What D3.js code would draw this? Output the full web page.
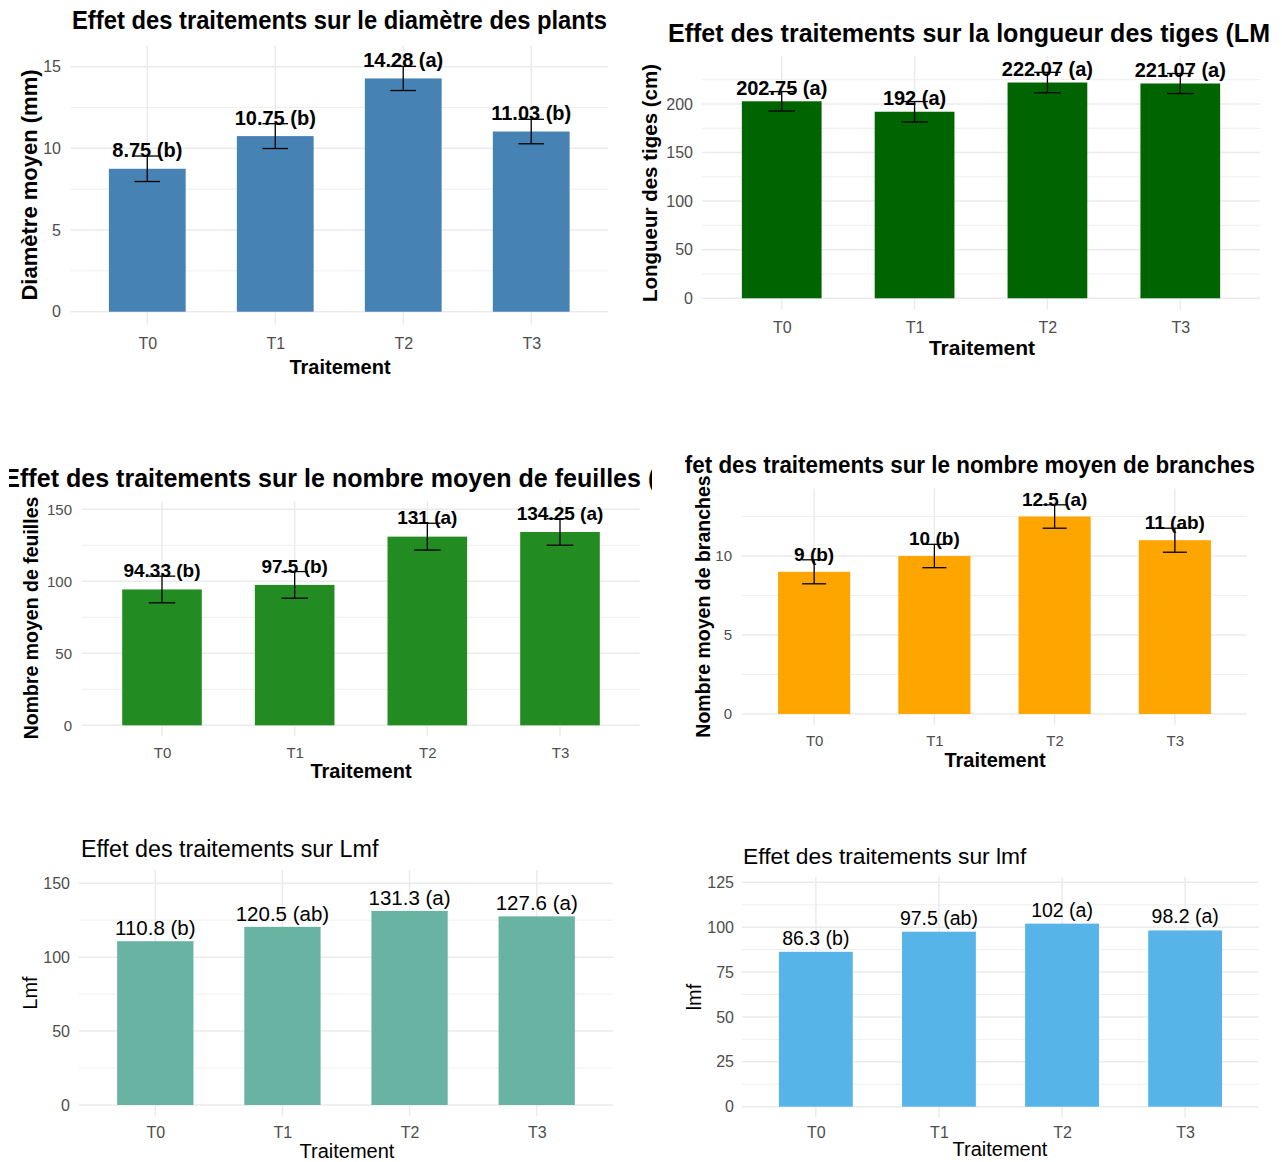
<!DOCTYPE html>
<html>
<head>
<meta charset="utf-8">
<script src="https://cdn.jsdelivr.net/npm/d3@7"></script>
<style>
  body { margin: 0; background: #fff; }
  svg { display: block; font-family: "Liberation Sans", Arial, sans-serif; }
</style>
</head>
<body>
<svg id="chart"></svg>
<script>
// données
const categories = ["T0", "T1", "T2", "T3"];

const diametre = [8.75, 10.75, 14.28, 11.03];
const diametreSE = [0.78, 0.76, 0.74, 0.75];
const diametreLettres = ["b", "b", "a", "b"];

const longueur = [202.75, 192, 222.07, 221.07];
const longueurSE = [10, 10.5, 10.5, 10.3];
const longueurLettres = ["a", "a", "a", "a"];

const feuilles = [94.33, 97.5, 131, 134.25];
const feuillesSE = [9.25, 9.25, 9.3, 9.2];
const feuillesLettres = ["b", "b", "a", "a"];

const branches = [9, 10, 12.5, 11];
const branchesSE = [0.76, 0.74, 0.74, 0.76];
const branchesLettres = ["b", "b", "a", "ab"];

const Lmf = [110.8, 120.5, 131.3, 127.6];
const LmfLettres = ["b", "ab", "a", "a"];

const lmf = [86.3, 97.5, 102, 98.2];
const lmfLettres = ["b", "ab", "a", "a"];

const W = 1282, H = 1162;
const svg = d3.select("#chart").attr("width", W).attr("height", H);
svg.append("rect").attr("width", W).attr("height", H).attr("fill", "#fff");
const defs = svg.append("defs");

function panel(c) {
  const g = svg.append("g");
  if (c.clip) {
    const id = "clip" + c.id;
    defs.append("clipPath").attr("id", id).append("rect")
      .attr("x", c.clip[0]).attr("y", c.clip[1])
      .attr("width", c.clip[2] - c.clip[0]).attr("height", c.clip[3] - c.clip[1]);
    g.attr("clip-path", `url(#${id})`);
  }

  const x = d3.scalePoint().domain(categories).range([c.left, c.right]).padding(0.6);
  const step = x.step();
  const y = d3.scaleLinear().domain([-0.05 * c.ymax, 1.05 * c.ymax]).range([c.bottom, c.top]);

  const major = d3.range(0, 1.05 * c.ymax + 1e-9, c.tick);
  const minor = major.map(v => v + c.tick / 2).filter(v => v <= 1.05 * c.ymax);

  g.append("g").selectAll("line").data(minor).join("line")
    .attr("x1", c.left).attr("x2", c.right)
    .attr("y1", d => y(d)).attr("y2", d => y(d))
    .attr("stroke", "#EBEBEB").attr("stroke-width", 0.8);
  g.append("g").selectAll("line").data(major).join("line")
    .attr("x1", c.left).attr("x2", c.right)
    .attr("y1", d => y(d)).attr("y2", d => y(d))
    .attr("stroke", "#EBEBEB").attr("stroke-width", 1.5);
  g.append("g").selectAll("line").data(categories).join("line")
    .attr("x1", d => x(d)).attr("x2", d => x(d))
    .attr("y1", c.top).attr("y2", c.bottom)
    .attr("stroke", "#EBEBEB").attr("stroke-width", 1.5);

  const rows = categories.map((k, i) => ({
    k, v: c.values[i], se: c.se ? c.se[i] : 0, lab: c.values[i] + " (" + c.letters[i] + ")"
  }));

  g.append("g").selectAll("rect").data(rows).join("rect")
    .attr("x", d => x(d.k) - 0.3 * step)
    .attr("width", 0.6 * step)
    .attr("y", d => y(d.v))
    .attr("height", d => y(0) - y(d.v))
    .attr("fill", c.color);

  if (c.se) {
    const eb = g.append("g").attr("stroke", "#000").attr("stroke-width", 1.3);
    const hw = 0.1 * step;
    eb.selectAll(".v").data(rows).join("line").attr("class", "v")
      .attr("x1", d => x(d.k)).attr("x2", d => x(d.k))
      .attr("y1", d => y(d.v - d.se)).attr("y2", d => y(d.v + d.se));
    eb.selectAll(".t").data(rows).join("line").attr("class", "t")
      .attr("x1", d => x(d.k) - hw).attr("x2", d => x(d.k) + hw)
      .attr("y1", d => y(d.v + d.se)).attr("y2", d => y(d.v + d.se));
    eb.selectAll(".b").data(rows).join("line").attr("class", "b")
      .attr("x1", d => x(d.k) - hw).attr("x2", d => x(d.k) + hw)
      .attr("y1", d => y(d.v - d.se)).attr("y2", d => y(d.v - d.se));
  }

  g.append("g").selectAll("text").data(rows).join("text")
    .attr("x", d => x(d.k))
    .attr("y", d => c.se ? y(d.v + d.se) + c.valOffset : y(d.v) + c.valOffset)
    .attr("text-anchor", "middle")
    .attr("font-size", c.valFs)
    .attr("font-weight", c.bold ? "bold" : "normal")
    .attr("fill", "#000")
    .text(d => d.lab);

  // axes
  const ay = g.append("g").attr("transform", `translate(${c.left},0)`)
    .call(d3.axisLeft(y).tickValues(major).tickSize(0).tickPadding(c.left - c.yLabRight).tickFormat(d3.format("d")));
  ay.select(".domain").remove();
  ay.selectAll("text").attr("font-size", c.tickFs).attr("fill", "#4D4D4D")
    .attr("font-family", "Liberation Sans, Arial, sans-serif");

  const ax = g.append("g").attr("transform", `translate(0,${c.bottom})`)
    .call(d3.axisBottom(x).tickSize(0).tickPadding(c.xLabBase - c.bottom - 0.71 * c.tickFs));
  ax.select(".domain").remove();
  ax.selectAll("text").attr("font-size", c.tickFs).attr("fill", "#4D4D4D")
    .attr("font-family", "Liberation Sans, Arial, sans-serif");

  // titres
  const t = g.append("text")
    .attr("x", c.titleX).attr("y", c.titleY)
    .attr("font-size", c.titleFs)
    .attr("font-weight", c.bold ? "bold" : "normal")
    .attr("fill", "#000")
    .text(c.title);
  if (c.titleLen) t.attr("textLength", c.titleLen).attr("lengthAdjust", "spacingAndGlyphs");

  g.append("text")
    .attr("x", c.xTitle[0]).attr("y", c.xTitle[1])
    .attr("text-anchor", "middle")
    .attr("font-size", c.xTitle[2])
    .attr("font-weight", c.bold ? "bold" : "normal")
    .text("Traitement");

  g.append("text")
    .attr("transform", `translate(${c.yTitle[1]},${c.yTitle[2]}) rotate(-90)`)
    .attr("text-anchor", "middle")
    .attr("font-size", c.yTitle[3])
    .attr("font-weight", c.bold ? "bold" : "normal")
    .text(c.yTitle[0]);
}

panel({
  id: 1, values: diametre, se: diametreSE, letters: diametreLettres, color: "#4682B4", bold: true,
  left: 70.5, right: 608, top: 45.5, bottom: 324.4, ymax: 15.52, tick: 5,
  tickFs: 16, xLabBase: 349, yLabRight: 61, valFs: 20, valOffset: 1,
  title: "Effet des traitements sur le diamètre des plants", titleX: 72, titleY: 29, titleFs: 26, titleLen: 535,
  xTitle: [340, 374, 20], yTitle: ["Diamètre moyen (mm)", 37, 185, 22]
});

panel({
  id: 2, values: longueur, se: longueurSE, letters: longueurLettres, color: "#006400", bold: true,
  left: 702, right: 1260, top: 56, bottom: 309.8, ymax: 237.5, tick: 50,
  tickFs: 16, xLabBase: 333, yLabRight: 693, valFs: 20, valOffset: 3.5,
  title: "Effet des traitements sur la longueur des tiges (LM", titleX: 668, titleY: 42, titleFs: 25, titleLen: 602,
  xTitle: [982, 355, 21], yTitle: ["Longueur des tiges (cm)", 657, 183, 20.5]
});

panel({
  id: 3, values: feuilles, se: feuillesSE, letters: feuillesLettres, color: "#228B22", bold: true,
  left: 82.4, right: 639.6, top: 500.9, bottom: 736, ymax: 148.4, tick: 50,
  tickFs: 15, xLabBase: 758, yLabRight: 72, valFs: 19, valOffset: 1,
  title: "Effet des traitements sur le nombre moyen de feuilles (", titleX: 3.3, titleY: 487, titleFs: 25, titleLen: 653,
  clip: [9, 440, 652, 800],
  xTitle: [361, 778, 20], yTitle: ["Nombre moyen de feuilles", 38, 618, 19.5]
});

panel({
  id: 4, values: branches, se: branchesSE, letters: branchesLettres, color: "#FFA500", bold: true,
  left: 742, right: 1247, top: 488.4, bottom: 724.7, ymax: 13.6, tick: 5,
  tickFs: 15, xLabBase: 746, yLabRight: 732, valFs: 19, valOffset: 1,
  title: "Effet des traitements sur le nombre moyen de branches", titleX: 662.4, titleY: 473, titleFs: 23, titleLen: 592.6,
  clip: [685, 430, 1282, 800],
  xTitle: [995, 767, 20], yTitle: ["Nombre moyen de branches", 710, 606.5, 19.5]
});

panel({
  id: 5, values: Lmf, letters: LmfLettres, color: "#69B3A2", bold: false,
  left: 79, right: 613, top: 870, bottom: 1116.2, ymax: 151.4, tick: 50,
  tickFs: 16, xLabBase: 1138, yLabRight: 70, valFs: 20.5, valOffset: -6,
  title: "Effet des traitements sur Lmf", titleX: 81, titleY: 857, titleFs: 23.3,
  xTitle: [347, 1158, 20], yTitle: ["Lmf", 37, 993, 20]
});

panel({
  id: 6, values: lmf, letters: lmfLettres, color: "#56B4E9", bold: false,
  left: 742, right: 1259, top: 876.8, bottom: 1117.6, ymax: 122, tick: 25,
  tickFs: 16, xLabBase: 1138, yLabRight: 734, valFs: 19.5, valOffset: -7,
  title: "Effet des traitements sur lmf", titleX: 743, titleY: 864, titleFs: 22.8,
  xTitle: [1000, 1156, 20], yTitle: ["lmf", 701, 997, 20]
});
</script>
</body>
</html>
